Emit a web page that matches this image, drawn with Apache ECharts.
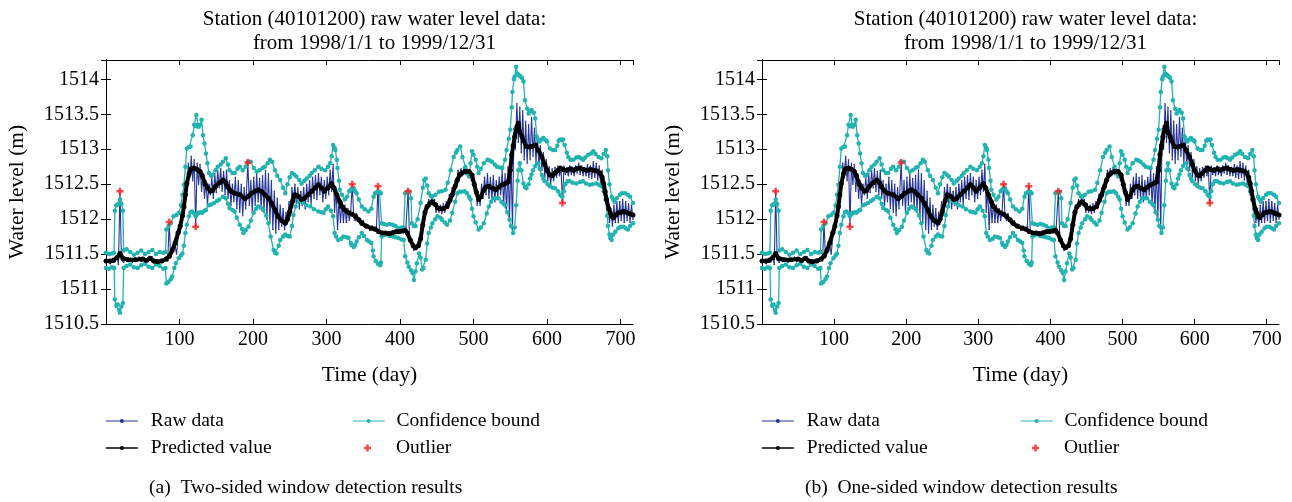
<!DOCTYPE html>
<html><head><meta charset="utf-8">
<script src="https://cdn.jsdelivr.net/npm/echarts@6/dist/echarts.min.js"></script>
<style>html,body{margin:0;padding:0;background:#fff}#c{width:1292px;height:502px}</style>
</head><body><div id="c"></div>
<script>
// ---------- text ----------
const titleLines = ['Station (40101200) raw water level data:', 'from 1998/1/1 to 1999/12/31'];
const captions = ['(a)  Two-sided window detection results', '(b)  One-sided window detection results'];
const xName = 'Time (day)';
const yName = 'Water level (m)';
const legendNames = ['Raw data', 'Predicted value', 'Confidence bound', 'Outlier'];

// ---------- data: [day, water level (m)] ----------
const predicted = [[0,1511.40],[5,1511.40],[10,1511.41],[15,1511.45],[19,1511.51],[23,1511.44],[30,1511.42],[40,1511.42],[50,1511.43],[55,1511.41],[60,1511.44],[65,1511.40],[70,1511.39],[76,1511.40],[82,1511.43],[86,1511.47],[90,1511.55],[94,1511.66],[98,1511.80],[101,1511.90],[104,1512.05],[106,1512.18],[108,1512.35],[110,1512.51],[113,1512.65],[116,1512.72],[120,1512.73],[124,1512.71],[128,1512.68],[131,1512.62],[135,1512.50],[138,1512.45],[142,1512.40],[145,1512.41],[149,1512.47],[154,1512.52],[159,1512.56],[163,1512.52],[166,1512.46],[170,1512.40],[175,1512.37],[182,1512.35],[189,1512.29],[194,1512.33],[198,1512.37],[203,1512.40],[207,1512.42],[212,1512.39],[216,1512.35],[221,1512.30],[225,1512.23],[230,1512.13],[234,1512.04],[239,1511.98],[244,1511.94],[247,1512.00],[250,1512.11],[254,1512.26],[257,1512.35],[261,1512.33],[266,1512.28],[270,1512.30],[275,1512.35],[280,1512.40],[285,1512.45],[289,1512.49],[293,1512.45],[297,1512.40],[302,1512.45],[307,1512.51],[310,1512.45],[314,1512.35],[318,1512.25],[321,1512.18],[325,1512.13],[330,1512.09],[335,1512.07],[339,1512.04],[344,1511.99],[348,1511.94],[354,1511.90],[361,1511.87],[366,1511.86],[371,1511.82],[376,1511.80],[380,1511.80],[385,1511.79],[389,1511.80],[394,1511.82],[398,1511.82],[403,1511.83],[407,1511.84],[410,1511.80],[414,1511.70],[418,1511.62],[421,1511.59],[425,1511.62],[428,1511.72],[431,1511.92],[434,1512.10],[437,1512.18],[441,1512.23],[444,1512.25],[448,1512.21],[451,1512.16],[455,1512.15],[459,1512.15],[464,1512.18],[468,1512.27],[471,1512.35],[475,1512.47],[478,1512.56],[481,1512.63],[484,1512.66],[489,1512.68],[494,1512.68],[498,1512.63],[501,1512.50],[504,1512.38],[507,1512.28],[510,1512.32],[514,1512.42],[517,1512.46],[521,1512.47],[526,1512.44],[530,1512.42],[535,1512.46],[539,1512.49],[543,1512.51],[547,1512.53],[550,1512.70],[552,1512.92],[554,1513.05],[556,1513.18],[559,1513.32],[561,1513.37],[563,1513.25],[566,1513.18],[568,1513.12],[572,1513.04],[576,1513.03],[579,1513.04],[584,1513.06],[588,1512.99],[593,1512.89],[597,1512.78],[600,1512.70],[604,1512.63],[607,1512.62],[611,1512.66],[615,1512.70],[618,1512.73],[622,1512.71],[627,1512.70],[632,1512.72],[636,1512.70],[640,1512.72],[645,1512.73],[650,1512.71],[654,1512.70],[659,1512.71],[663,1512.70],[668,1512.69],[672,1512.66],[675,1512.60],[677,1512.51],[679,1512.40],[681,1512.28],[684,1512.15],[686,1512.09],[688,1512.04],[690,1512.02],[694,1512.06],[697,1512.09],[701,1512.10],[704,1512.11],[708,1512.10],[712,1512.08],[717,1512.06]];

const upperBound = [[0,1511.52],[4,1511.50],[8,1511.51],[11,1511.52],[12,1512.12],[14,1512.20],[17,1512.22],[19,1512.28],[21,1512.22],[23,1512.12],[24,1511.55],[28,1511.57],[33,1511.53],[38,1511.49],[43,1511.52],[48,1511.55],[53,1511.50],[58,1511.53],[63,1511.56],[68,1511.50],[73,1511.53],[78,1511.52],[81,1511.53],[82,1511.85],[85,1511.90],[88,1511.94],[92,1512.04],[96,1512.06],[99,1512.09],[102,1512.20],[104,1512.35],[106,1512.49],[108,1512.75],[110,1513.01],[113,1513.03],[115,1513.04],[118,1513.20],[120,1513.35],[122,1513.33],[123,1513.49],[125,1513.35],[126,1513.32],[128,1513.35],[130,1513.42],[132,1513.20],[134,1513.08],[136,1512.94],[138,1512.80],[140,1512.66],[143,1512.62],[145,1512.63],[149,1512.70],[152,1512.75],[156,1512.78],[159,1512.82],[163,1512.87],[166,1512.78],[168,1512.70],[172,1512.66],[175,1512.66],[179,1512.72],[182,1512.75],[186,1512.70],[190,1512.75],[193,1512.82],[197,1512.82],[201,1512.73],[205,1512.68],[209,1512.70],[213,1512.73],[216,1512.75],[220,1512.80],[223,1512.85],[226,1512.82],[230,1512.70],[233,1512.62],[237,1512.56],[241,1512.45],[244,1512.37],[247,1512.50],[250,1512.60],[253,1512.66],[256,1512.64],[259,1512.61],[263,1512.56],[266,1512.51],[270,1512.55],[273,1512.58],[277,1512.62],[280,1512.66],[284,1512.70],[289,1512.75],[293,1512.72],[298,1512.70],[302,1512.75],[305,1512.80],[307,1512.90],[309,1513.06],[311,1513.02],[312,1512.99],[314,1512.85],[315,1512.73],[317,1512.55],[318,1512.42],[321,1512.35],[325,1512.28],[328,1512.32],[331,1512.40],[333,1512.42],[335,1512.44],[337,1512.44],[339,1512.40],[341,1512.37],[344,1512.28],[348,1512.18],[352,1512.14],[357,1512.11],[361,1512.15],[364,1512.32],[366,1512.37],[369,1512.39],[372,1512.39],[374,1512.37],[375,1511.94],[378,1511.93],[382,1511.92],[386,1511.93],[390,1511.92],[394,1511.90],[398,1511.87],[402,1511.88],[405,1511.88],[407,1512.37],[410,1512.39],[413,1512.39],[415,1512.30],[416,1511.94],[419,1511.90],[421,1511.90],[424,1512.00],[428,1512.23],[431,1512.45],[433,1512.56],[435,1512.58],[437,1512.48],[439,1512.37],[442,1512.33],[444,1512.32],[448,1512.35],[453,1512.39],[457,1512.40],[462,1512.42],[465,1512.52],[469,1512.70],[473,1512.89],[476,1512.95],[478,1512.99],[482,1513.04],[485,1512.89],[489,1512.75],[492,1512.65],[494,1512.61],[496,1512.80],[498,1512.97],[500,1512.92],[503,1512.85],[505,1512.75],[507,1512.66],[510,1512.72],[514,1512.80],[519,1512.85],[522,1512.84],[525,1512.82],[529,1512.78],[532,1512.75],[536,1512.74],[539,1512.73],[543,1512.85],[545,1512.99],[548,1513.15],[550,1513.28],[552,1513.60],[553,1513.82],[555,1514.00],[556,1514.04],[558,1514.18],[560,1514.08],[561,1514.06],[563,1514.05],[564,1514.04],[566,1514.02],[568,1513.97],[570,1513.70],[573,1513.58],[575,1513.51],[577,1513.54],[579,1513.56],[582,1513.52],[584,1513.44],[586,1513.18],[588,1513.14],[590,1513.11],[593,1513.14],[595,1513.16],[598,1513.13],[600,1513.11],[604,1513.01],[608,1512.99],[611,1512.99],[614,1513.05],[616,1513.12],[618,1513.14],[620,1513.13],[622,1513.14],[624,1513.06],[627,1512.95],[629,1512.89],[632,1512.85],[636,1512.85],[640,1512.88],[643,1512.89],[646,1512.87],[649,1512.85],[652,1512.88],[656,1512.92],[660,1512.94],[663,1512.97],[666,1512.93],[670,1512.89],[674,1512.87],[677,1512.93],[680,1512.99],[682,1512.90],[683,1512.70],[685,1512.50],[688,1512.32],[690,1512.28],[692,1512.25],[695,1512.30],[699,1512.35],[702,1512.37],[706,1512.37],[710,1512.35],[713,1512.32],[717,1512.23]];

const lowerBound = [[0,1511.30],[4,1511.29],[8,1511.31],[11,1511.30],[12,1510.85],[14,1510.76],[16,1510.78],[18,1510.70],[19,1510.66],[21,1510.75],[23,1510.80],[24,1511.30],[28,1511.33],[33,1511.35],[38,1511.31],[43,1511.30],[48,1511.34],[53,1511.36],[58,1511.32],[63,1511.30],[68,1511.35],[73,1511.33],[78,1511.29],[81,1511.30],[82,1511.08],[85,1511.10],[88,1511.14],[90,1511.18],[93,1511.30],[95,1511.37],[99,1511.44],[102,1511.48],[104,1511.51],[106,1511.62],[108,1511.80],[110,1511.92],[113,1512.04],[115,1512.10],[117,1512.11],[120,1512.08],[122,1512.04],[124,1512.07],[126,1512.09],[129,1512.10],[131,1512.09],[134,1512.12],[136,1512.13],[140,1512.20],[143,1512.21],[147,1512.23],[151,1512.26],[154,1512.28],[159,1512.32],[163,1512.30],[166,1512.22],[168,1512.16],[172,1512.13],[175,1512.11],[178,1512.02],[182,1511.92],[185,1511.86],[187,1511.80],[190,1511.84],[194,1511.89],[197,1511.98],[201,1512.09],[204,1512.15],[207,1512.18],[211,1512.16],[214,1512.13],[218,1512.05],[221,1511.94],[224,1511.75],[228,1511.56],[230,1511.52],[232,1511.51],[235,1511.62],[237,1511.70],[241,1511.75],[244,1511.78],[247,1511.76],[250,1511.75],[253,1511.90],[255,1512.06],[258,1512.18],[262,1512.28],[265,1512.26],[268,1512.23],[273,1512.20],[278,1512.18],[283,1512.14],[289,1512.11],[293,1512.10],[296,1512.09],[299,1512.14],[302,1512.18],[306,1512.12],[309,1512.04],[311,1511.80],[313,1511.75],[316,1511.70],[320,1511.72],[323,1511.75],[327,1511.74],[330,1511.73],[333,1511.66],[334,1511.63],[337,1511.60],[339,1511.63],[341,1511.68],[344,1511.74],[348,1511.80],[351,1511.76],[355,1511.70],[358,1511.68],[361,1511.66],[363,1511.55],[364,1511.47],[367,1511.40],[370,1511.36],[373,1511.34],[374,1511.38],[375,1511.75],[378,1511.77],[382,1511.78],[386,1511.76],[390,1511.75],[394,1511.74],[398,1511.73],[402,1511.71],[405,1511.70],[407,1511.47],[410,1511.38],[412,1511.32],[415,1511.27],[417,1511.23],[419,1511.13],[421,1511.25],[423,1511.37],[426,1511.51],[428,1511.45],[430,1511.28],[432,1511.30],[435,1511.42],[437,1511.65],[439,1511.80],[442,1511.88],[444,1511.94],[448,1512.00],[451,1512.04],[455,1512.02],[457,1511.99],[461,1511.95],[464,1511.92],[468,1511.98],[471,1512.09],[475,1512.25],[478,1512.37],[481,1512.39],[484,1512.39],[488,1512.40],[491,1512.37],[494,1512.32],[496,1512.28],[498,1512.15],[500,1512.04],[503,1511.95],[507,1511.85],[510,1511.88],[514,1511.94],[518,1512.08],[521,1512.18],[524,1512.25],[527,1512.30],[531,1512.30],[534,1512.30],[538,1512.25],[541,1512.22],[543,1512.20],[546,1512.10],[549,1511.99],[551,1511.90],[554,1511.80],[556,1511.88],[558,1512.20],[560,1512.55],[561,1512.70],[563,1512.80],[565,1512.70],[568,1512.51],[570,1512.46],[572,1512.44],[575,1512.50],[577,1512.58],[579,1512.64],[581,1512.70],[584,1512.76],[588,1512.80],[590,1512.72],[593,1512.63],[595,1512.58],[597,1512.54],[601,1512.50],[604,1512.47],[608,1512.45],[611,1512.44],[615,1512.40],[618,1512.35],[620,1512.33],[621,1512.32],[623,1512.40],[625,1512.50],[628,1512.54],[631,1512.54],[635,1512.52],[640,1512.51],[645,1512.53],[649,1512.54],[653,1512.51],[658,1512.49],[662,1512.50],[667,1512.51],[671,1512.49],[674,1512.47],[677,1512.40],[680,1512.28],[682,1512.05],[683,1511.90],[685,1511.78],[686,1511.73],[688,1511.70],[690,1511.78],[693,1511.82],[697,1511.87],[700,1511.89],[704,1511.89],[707,1511.87],[710,1511.85],[713,1511.90],[717,1511.94]];

const rawData = [[0,1511.38],[3,1511.42],[6,1511.36],[9,1511.44],[12,1511.40],[15,1511.47],[17,1511.35],[19,1512.40],[21,1511.42],[24,1511.38],[27,1511.45],[30,1511.40],[33,1511.44],[36,1511.38],[39,1511.43],[42,1511.40],[45,1511.46],[48,1511.39],[51,1511.44],[54,1511.37],[57,1511.45],[60,1511.41],[63,1511.46],[66,1511.36],[69,1511.42],[72,1511.38],[75,1511.43],[78,1511.39],[81,1511.45],[84,1511.40],[86,1511.96],[88,1511.45],[91,1511.55],[94,1511.62],[96,1511.50],[99,1511.85],[101,1511.80],[104,1512.10],[106,1512.05],[108,1512.40],[110,1512.45],[112,1512.80],[114,1512.60],[116,1512.90],[118,1512.55],[120,1512.85],[122,1511.89],[124,1512.80],[126,1512.50],[128,1512.78],[130,1512.40],[132,1512.65],[134,1512.30],[136,1512.55],[138,1512.20],[140,1512.50],[142,1512.35],[144,1512.60],[146,1512.30],[148,1512.65],[150,1512.38],[152,1512.70],[154,1512.45],[156,1512.72],[158,1512.40],[160,1512.68],[162,1512.35],[164,1512.70],[166,1512.30],[168,1512.55],[170,1512.20],[172,1512.50],[174,1512.25],[176,1512.60],[178,1512.15],[180,1512.55],[182,1512.10],[184,1512.50],[186,1512.05],[188,1512.45],[190,1512.15],[193,1512.81],[195,1512.20],[197,1512.55],[199,1512.10],[201,1512.60],[203,1512.20],[205,1512.65],[207,1512.25],[209,1512.58],[211,1512.15],[213,1512.62],[215,1512.10],[217,1512.70],[219,1512.00],[221,1512.65],[223,1511.95],[225,1512.55],[227,1511.85],[229,1512.40],[231,1511.80],[233,1512.30],[235,1511.85],[237,1512.20],[239,1511.90],[241,1512.15],[243,1511.85],[245,1512.10],[247,1511.95],[249,1512.25],[251,1512.05],[253,1512.45],[255,1512.25],[257,1512.50],[259,1512.20],[261,1512.45],[263,1512.15],[265,1512.40],[267,1512.20],[269,1512.45],[271,1512.15],[273,1512.50],[275,1512.25],[277,1512.55],[279,1512.20],[281,1512.60],[283,1512.30],[285,1512.62],[287,1512.28],[289,1512.65],[291,1512.35],[293,1512.60],[295,1512.25],[297,1512.55],[299,1512.30],[301,1512.60],[303,1512.35],[305,1512.70],[307,1512.40],[309,1512.78],[311,1512.10],[313,1512.45],[315,1511.85],[317,1512.30],[319,1511.95],[321,1512.25],[323,1511.95],[325,1512.20],[327,1511.95],[329,1512.15],[331,1511.98],[333,1512.12],[335,1512.50],[337,1512.05],[339,1511.98],[341,1512.08],[344,1511.96],[347,1511.92],[350,1511.98],[353,1511.88],[356,1511.92],[359,1511.84],[362,1511.90],[365,1511.83],[368,1511.88],[370,1512.47],[372,1511.84],[375,1511.78],[378,1511.82],[381,1511.77],[384,1511.82],[387,1511.76],[390,1511.83],[393,1511.79],[396,1511.85],[399,1511.80],[402,1511.86],[405,1511.80],[408,1511.88],[411,1512.40],[413,1511.72],[415,1511.65],[417,1511.60],[419,1511.55],[421,1511.62],[423,1511.58],[425,1511.66],[427,1511.75],[429,1511.90],[431,1512.00],[433,1512.12],[435,1512.20],[437,1512.15],[439,1512.28],[441,1512.18],[443,1512.30],[445,1512.20],[447,1512.28],[449,1512.10],[451,1512.22],[453,1512.10],[455,1512.20],[457,1512.08],[459,1512.22],[461,1512.10],[463,1512.25],[465,1512.15],[467,1512.35],[469,1512.25],[471,1512.45],[473,1512.35],[475,1512.55],[477,1512.50],[479,1512.70],[481,1512.60],[483,1512.72],[485,1512.62],[487,1512.74],[489,1512.64],[491,1512.72],[493,1512.62],[495,1512.70],[497,1512.55],[499,1512.60],[501,1512.40],[503,1512.45],[505,1512.20],[507,1512.35],[509,1512.20],[511,1512.50],[513,1512.30],[515,1512.60],[517,1512.35],[519,1512.65],[521,1512.30],[523,1512.60],[525,1512.28],[527,1512.62],[529,1512.25],[531,1512.55],[533,1512.30],[535,1512.60],[537,1512.35],[539,1512.70],[541,1512.20],[543,1512.65],[545,1512.10],[547,1512.75],[549,1512.00],[551,1512.90],[553,1511.85],[555,1513.30],[557,1513.00],[559,1513.65],[561,1513.10],[563,1513.60],[565,1512.95],[567,1513.55],[569,1512.85],[571,1513.40],[573,1512.80],[575,1513.35],[577,1512.85],[579,1513.45],[581,1512.90],[583,1513.30],[585,1512.80],[587,1513.20],[589,1512.75],[591,1513.05],[593,1512.70],[595,1512.95],[597,1512.60],[599,1512.85],[601,1512.55],[603,1512.75],[605,1512.50],[607,1512.72],[609,1512.55],[611,1512.74],[613,1512.60],[615,1512.76],[617,1512.62],[619,1512.74],[621,1512.23],[623,1512.76],[625,1512.64],[627,1512.74],[629,1512.62],[631,1512.76],[633,1512.64],[635,1512.74],[637,1512.62],[639,1512.76],[641,1512.66],[643,1512.80],[645,1512.64],[647,1512.76],[649,1512.62],[651,1512.74],[653,1512.62],[655,1512.78],[657,1512.60],[659,1512.76],[661,1512.58],[663,1512.82],[665,1512.60],[667,1512.80],[669,1512.56],[671,1512.76],[673,1512.50],[675,1512.70],[677,1512.35],[679,1512.45],[681,1512.15],[683,1512.20],[685,1511.95],[687,1512.15],[689,1511.90],[691,1512.20],[693,1511.95],[695,1512.25],[697,1511.95],[699,1512.25],[701,1511.98],[703,1512.28],[705,1511.95],[707,1512.25],[709,1511.98],[711,1512.22],[713,1511.95],[715,1512.20],[717,1512.00]];

const outliers = [[19,1512.40],[86,1511.96],[122,1511.89],[193,1512.81],[335,1512.50],[370,1512.47],[411,1512.40],[621,1512.23]];

// ---------- axes ----------
const xMin = 0, xMax = 717, xStep = 100;
const yMin = 1510.5, yMax = 1514.276, yStep = 0.5;

// ---------- styling / layout ----------
const FONT = 'Liberation Serif';
const C_RAW = '#26359a', C_BOUND = '#22b3b1', C_PRED = '#000000', C_OUT = '#ff1a1a';
const panels = [
  {left: 106, width: 527, legendCol1: -1, legendCol2: 246},
  {left: 762, width: 517, legendCol1: -1, legendCol2: 258}
];
const TOP = 60, HEIGHT = 264;
const plusPath = 'path://M1.6,0L3.4,0L3.4,1.6L5,1.6L5,3.4L3.4,3.4L3.4,5L1.6,5L1.6,3.4L0,3.4L0,1.6L1.6,1.6Z';

const grid = [], xAxis = [], yAxis = [], series = [], title = [], legend = [];
const tickText = {color: '#000', fontFamily: FONT, fontSize: 20};
const nameText = {color: '#000', fontFamily: FONT, fontSize: 21.5};
const lineBlack = {show: true, lineStyle: {color: '#000', width: 1}};
const tickIn = {inside: true, length: 5, lineStyle: {color: '#000'}};
const fmt = v => String(v);

panels.forEach((p, i) => {
  const cx = p.left + p.width / 2;
  grid.push({left: p.left, top: TOP, width: p.width, height: HEIGHT, containLabel: false});
  xAxis.push({
    type: 'value', gridIndex: i, min: xMin, max: xMax, interval: xStep, position: 'bottom',
    name: xName, nameLocation: 'middle', nameGap: 40, nameTextStyle: nameText,
    axisLine: lineBlack, axisTick: tickIn,
    axisLabel: Object.assign({margin: 6, showMinLabel: false, showMaxLabel: false, formatter: fmt}, tickText),
    splitLine: {show: false}
  });
  xAxis.push({
    type: 'value', gridIndex: i, min: xMin, max: xMax, interval: xStep, position: 'top',
    axisLine: lineBlack, axisTick: tickIn, axisLabel: {show: false}, splitLine: {show: false}
  });
  yAxis.push({
    type: 'value', gridIndex: i, min: yMin, max: yMax, interval: yStep, position: 'left',
    name: yName, nameLocation: 'middle', nameGap: 78, nameRotate: 90, nameTextStyle: nameText,
    axisLine: lineBlack, axisTick: tickIn,
    axisLabel: Object.assign({margin: 7, showMaxLabel: false, formatter: fmt}, tickText),
    splitLine: {show: false}
  });
  yAxis.push({
    type: 'value', gridIndex: i, min: yMin, max: yMax, interval: yStep, position: 'right',
    axisLine: lineBlack, axisTick: tickIn, axisLabel: {show: false}, splitLine: {show: false}
  });
  const xi = i * 2, yi = i * 2;
  series.push({
    name: legendNames[0], type: 'line', xAxisIndex: xi, yAxisIndex: yi, data: rawData,
    showAllSymbol: true, symbol: 'circle', symbolSize: 1.5,
    lineStyle: {color: C_RAW, width: 1.1}, itemStyle: {color: C_RAW}, z: 2
  });
  [upperBound, lowerBound].forEach(b => series.push({
    name: legendNames[2], type: 'line', xAxisIndex: xi, yAxisIndex: yi, data: b,
    showAllSymbol: true, symbol: 'circle', symbolSize: 4.5,
    lineStyle: {color: C_BOUND, width: 1.3}, itemStyle: {color: C_BOUND}, z: 3
  }));
  series.push({
    name: legendNames[1], type: 'line', xAxisIndex: xi, yAxisIndex: yi, data: predicted,
    showAllSymbol: true, symbol: 'circle', symbolSize: 5,
    lineStyle: {color: C_PRED, width: 4}, itemStyle: {color: C_PRED}, z: 4
  });
  series.push({
    name: legendNames[3], type: 'scatter', xAxisIndex: xi, yAxisIndex: yi, data: outliers,
    symbol: plusPath, symbolSize: 7, itemStyle: {color: C_OUT}, z: 5
  });
  title.push({
    text: titleLines.join('\n'), left: cx, top: 2, textAlign: 'center',
    textStyle: {fontFamily: FONT, fontSize: 21, fontWeight: 'normal', color: '#000', lineHeight: 24}
  });
  title.push({
    text: captions[i], left: p.left + 38, top: 473,
    textStyle: {fontFamily: FONT, fontSize: 19.5, fontWeight: 'normal', color: '#000'}
  });
  const lt = {fontFamily: FONT, fontSize: 19.5, color: '#000'};
  legend.push({
    data: [{name: legendNames[0], lineStyle: {width: 1.2}},
           {name: legendNames[1], lineStyle: {width: 1.6}}],
    orient: 'vertical', left: p.left + p.legendCol1, top: 411, padding: 0,
    itemWidth: 32, itemHeight: 5, itemGap: 7, textStyle: Object.assign({padding: [0, 0, 0, 8]}, lt),
    selectedMode: false
  });
  legend.push({
    data: [{name: legendNames[2], lineStyle: {width: 1.2}}],
    orient: 'vertical', left: p.left + p.legendCol2, top: 411, padding: 0,
    itemWidth: 32, itemHeight: 5, textStyle: Object.assign({padding: [0, 0, 0, 7]}, lt),
    selectedMode: false
  });
  legend.push({
    data: [legendNames[3]], orient: 'vertical', left: p.legendCol2 + p.left + 12, top: 438, padding: 0,
    itemWidth: 7, itemHeight: 7, textStyle: Object.assign({padding: [0, 0, 0, 20]}, lt),
    selectedMode: false
  });
});

const chart = echarts.init(document.getElementById('c'), null, {renderer: 'canvas'});
chart.setOption({animation: false, backgroundColor: '#fff', title, legend, grid, xAxis, yAxis, series});
</script>
</body></html>
